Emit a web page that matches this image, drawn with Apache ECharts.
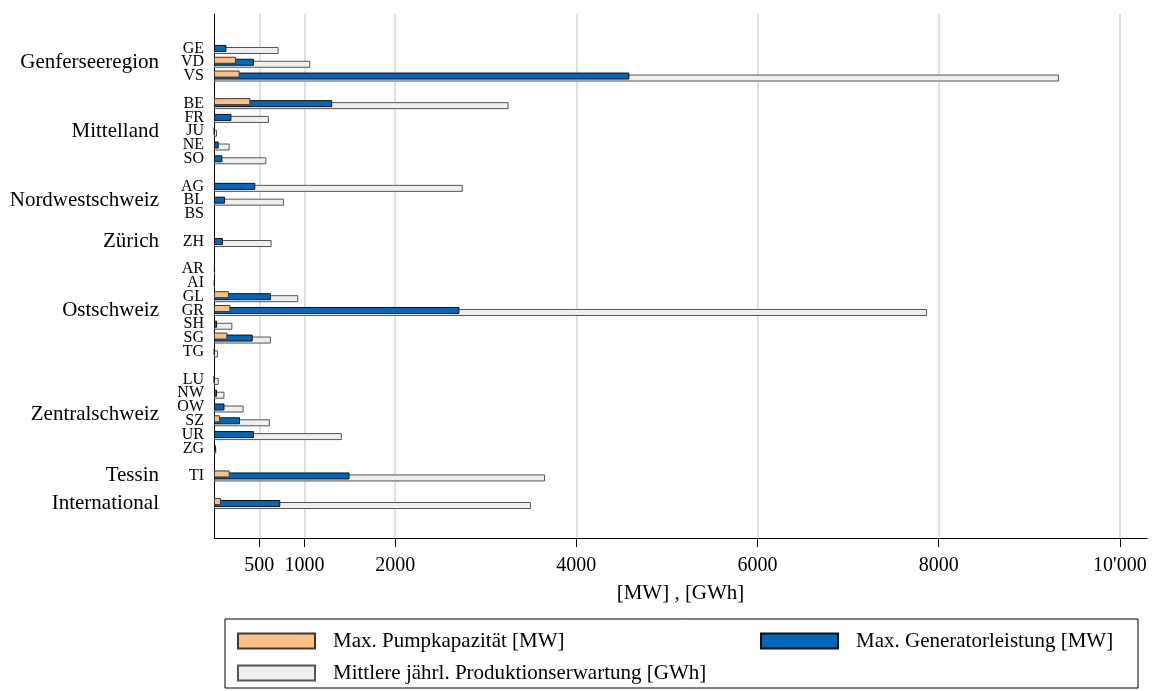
<!DOCTYPE html>
<html><head><meta charset="utf-8">
<script src="https://cdn.jsdelivr.net/npm/echarts@6/dist/echarts.min.js"></script>
<style>html,body{margin:0;padding:0;background:#fff}#c{width:1159px;height:691px}</style>
</head><body><div id="c"></div>
<script>
// Category rows (blank strings are spacer rows between regions)
const stateCodes = ['', '', 'GE','VD','VS','', 'BE','FR','JU','NE','SO','', 'AG','BL','BS','', 'ZH','', 'AR','AI','GL','GR','SH','SG','TG','', 'LU','NW','OW','SZ','UR','ZG','', 'TI','', '', '', ''];
const regionLabels = ['', '', '','Genferseeregion','','', '','','Mittelland','','','', '','Nordwestschweiz','','', 'Zürich','', '','','','Ostschweiz','','','','', '','','Zentralschweiz','','','','', 'Tessin','', 'International', '', ''];
// Series values
const pumpMW = [null,null, null,243,283,null, 401,null,null,null,null,null, null,null,null,null, null,null, null,null,165,181,null,148,null,null, null,null,null,66,null,null,null, 173,null,77,null,null];
const generatorMW = [null,null, 137,441,4585,null, 1305,192,5,52,92,null, 456,121,null,null, 99,null, 10,8,628,2709,33,427,6,null, 3,33,115,287,441,20,null, 1496,null,732,null,null];
const productionGWh = [null,null, 713,1063,9328,null, 3252,606,33,173,578,null, 2745,772,null,null, 636,null, 12,10,930,7872,203,628,44,null, 52,115,327,617,1411,25,null, 3654,null,3499,null,null];
// X axis ticks
const xTicks = [500, 1000, 2000, 4000, 6000, 8000, 10000];
const seriesNames = ['Max. Pumpkapazität [MW]', 'Max. Generatorleistung [MW]', 'Mittlere jährl. Produktionserwartung [GWh]'];

const FF = 'Liberation Serif';
const chart = echarts.init(document.getElementById('c'), null, {renderer: 'canvas'});
chart.setOption({
  animation: false,
  textStyle: {fontFamily: FF, color: '#000'},
  grid: {left: 214, right: 12, top: 14, bottom: 153, outerBoundsMode: 'none'},
  xAxis: {
    type: 'value', min: 0, max: 10300,
    axisLine: {show: true, lineStyle: {color: '#000', width: 1}},
    axisTick: {show: true, customValues: xTicks, length: 9, lineStyle: {color: '#000', width: 1}},
    axisLabel: {customValues: xTicks, fontSize: 20, fontFamily: FF, color: '#000', margin: 18,
      formatter: v => v === 10000 ? "10'000" : String(v)},
    splitLine: {show: true, lineStyle: {color: '#e0e0e0', width: 2}},
    name: '[MW] , [GWh]', nameLocation: 'middle', nameGap: 45,
    nameTextStyle: {fontSize: 21, fontFamily: FF, color: '#000'}
  },
  yAxis: [{
    type: 'category', inverse: true, data: stateCodes,
    axisLine: {show: true, lineStyle: {color: '#000', width: 1}},
    axisTick: {show: false},
    splitLine: {show: false},
    axisLabel: {interval: 0, fontSize: 16, fontFamily: FF, color: '#000', margin: 10}
  }, {
    type: 'category', inverse: true, data: regionLabels, position: 'left',
    axisLine: {show: false}, axisTick: {show: false}, splitLine: {show: false},
    axisLabel: {interval: 0, fontSize: 21, fontFamily: FF, color: '#000', margin: 55,
      formatter: v => v === 'Zentralschweiz' ? '{z|' + v + '}' : v,
      rich: {z: {fontSize: 21, fontFamily: FF, color: '#000', padding: [14, 0, 0, 0]}}}
  }],
  legend: {
    left: 225, top: 619, width: 900,
    padding: [11, 10, 4, 12],
    borderColor: '#000', borderWidth: 1,
    itemWidth: 77, itemHeight: 15, itemGap: 10,
    icon: 'rect', selectedMode: false,
    textStyle: {fontSize: 21, fontFamily: FF, color: '#000', lineHeight: 22, padding: [0, 0, 0, 13]},
    data: [
      {name: seriesNames[0], textStyle: {width: 417}},
      {name: seriesNames[1], textStyle: {width: 272}},
      {name: seriesNames[2]}
    ]
  },
  series: [{
    name: seriesNames[0], type: 'bar', data: pumpMW, z: 4,
    barWidth: 7, barGap: '-71.4%',
    itemStyle: {color: '#FDBF84', borderColor: '#3a3a3a', borderWidth: 1}
  }, {
    name: seriesNames[1], type: 'bar', data: generatorMW, z: 3,
    barWidth: 7, barGap: '-71.4%',
    itemStyle: {color: '#0068BC', borderColor: '#111', borderWidth: 1}
  }, {
    name: seriesNames[2], type: 'bar', data: productionGWh, z: 2,
    barWidth: 7, barGap: '-71.4%',
    itemStyle: {color: '#EFEFEF', borderColor: '#555', borderWidth: 1}
  }]
});
</script></body></html>
